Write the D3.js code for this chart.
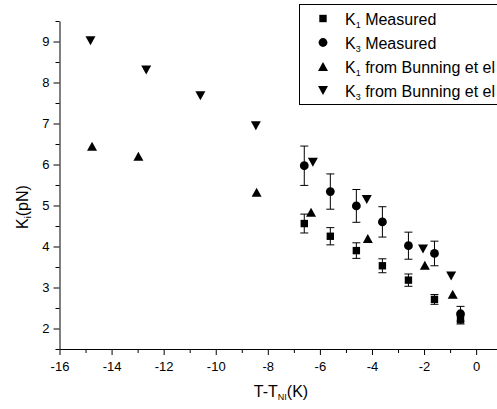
<!DOCTYPE html>
<html>
<head>
<meta charset="utf-8">
<script src="https://cdn.jsdelivr.net/npm/d3@7"></script>
<style>
  body { margin: 0; background: #fff; }
  text { font-family: Arial, "Liberation Sans", sans-serif; fill: #000; }
</style>
</head>
<body>
<div id="chart"></div>
<script>
// Values
const k1MeasT = [-6.6, -5.6, -4.6, -3.6, -2.6, -1.6, -0.6];
const k1Meas = [4.56, 4.25, 3.90, 3.53, 3.18, 2.71, 2.21];
const k1MeasErr = [0.23, 0.21, 0.19, 0.17, 0.15, 0.12, 0.10];

const k3MeasT = [-6.6, -5.6, -4.6, -3.6, -2.6, -1.6, -0.6];
const k3Meas = [5.97, 5.34, 4.99, 4.60, 4.02, 3.83, 2.36];
const k3MeasErr = [0.48, 0.43, 0.40, 0.37, 0.33, 0.30, 0.18];

const k1BunT = [-14.75, -12.97, -8.43, -6.34, -4.16, -1.97, -0.9];
const k1Bun = [6.44, 6.20, 5.32, 4.83, 4.19, 3.54, 2.83];

const k3BunT = [-14.81, -12.67, -10.59, -8.46, -6.27, -4.2, -2.04, -0.96];
const k3Bun = [9.02, 8.31, 7.68, 6.95, 6.06, 5.15, 3.94, 3.28];

const xTicks = [-16, -14, -12, -10, -8, -6, -4, -2, 0];
const xMinorTicks = [-15, -13, -11, -9, -7, -5, -3, -1, 1];
const yTicks = [2, 3, 4, 5, 6, 7, 8, 9];
const yMinorTicks = [1.5, 2.5, 3.5, 4.5, 5.5, 6.5, 7.5, 8.5, 9.5];

const legendNames = ["K", "K", "K", "K"];
const legendSubs = ["1", "3", "1", "3"];
const legendRest = [" Measured", " Measured", " from Bunning et el", " from Bunning et el"];
const legendShapes = ["square", "circle", "up", "down"];

const width = 497;
const height = 409;

const svg = d3.select("#chart")
    .append("svg")
    .attr("width", width)
    .attr("height", height);

// scales
const xScale = d3.scaleLinear()
    .domain([-16, 1])
    .range([59.5, 59.5 + 17 * 26.04]);

const yScale = d3.scaleLinear()
    .domain([1.5, 9.5])
    .range([349, 21]);

// x axis, major and minor ticks
svg.append("g")
    .attr("transform", `translate(0, ${yScale(1.5)})`)
    .style("font-size", "13px")
    .call(d3.axisBottom(xScale)
        .tickValues(xTicks)
        .tickSize(6)
        .tickPadding(7)
        .tickSizeOuter(0)
        .tickFormat(d => String(d)));

svg.append("g")
    .attr("transform", `translate(0, ${yScale(1.5)})`)
    .call(d3.axisBottom(xScale)
        .tickValues(xMinorTicks)
        .tickSize(4)
        .tickSizeOuter(0)
        .tickFormat(""))
    .select(".domain").remove();

// y axis
svg.append("g")
    .attr("transform", `translate(${xScale(-16)}, 0)`)
    .style("font-size", "13px")
    .call(d3.axisLeft(yScale)
        .tickValues(yTicks)
        .tickSize(6)
        .tickPadding(4)
        .tickSizeOuter(0)
        .tickFormat(d => String(d)));

svg.append("g")
    .attr("transform", `translate(${xScale(-16)}, 0)`)
    .call(d3.axisLeft(yScale)
        .tickValues(yMinorTicks)
        .tickSize(4)
        .tickSizeOuter(0)
        .tickFormat(""))
    .select(".domain").remove();

svg.selectAll(".tick text").style("fill", "#000");
svg.selectAll(".domain, .tick line").attr("stroke", "#000");

// marker paths, centred on their box
function marker(shape) {
    if (shape === "square") return "M-3.7,-3.7H3.7V3.7H-3.7Z";
    if (shape === "circle") return "M4.4,0A4.4,4.4 0 1,1 -4.4,0A4.4,4.4 0 1,1 4.4,0Z";
    if (shape === "up") return "M0,-4.6L5,4.4L-5,4.4Z";
    return "M0,4.6L5,-4.4L-5,-4.4Z";
}

// error bars
function errorBars(ts, vs, es) {
    const g = svg.append("g").attr("stroke", "#000").attr("stroke-width", 1);
    ts.forEach((t, i) => {
        const cx = xScale(t);
        const top = yScale(vs[i] + es[i]);
        const bot = yScale(vs[i] - es[i]);
        g.append("line").attr("x1", cx).attr("x2", cx).attr("y1", top).attr("y2", bot);
        g.append("line").attr("x1", cx - 4).attr("x2", cx + 4).attr("y1", top).attr("y2", top);
        g.append("line").attr("x1", cx - 4).attr("x2", cx + 4).attr("y1", bot).attr("y2", bot);
    });
}

function points(ts, vs, shape) {
    svg.append("g")
        .selectAll("path")
        .data(ts.map((t, i) => ({ t: t, v: vs[i] })))
        .join("path")
        .attr("transform", d => `translate(${xScale(d.t)}, ${yScale(d.v)})`)
        .attr("d", marker(shape))
        .attr("fill", "#000");
}

errorBars(k1MeasT, k1Meas, k1MeasErr);
errorBars(k3MeasT, k3Meas, k3MeasErr);
points(k1MeasT, k1Meas, "square");
points(k3MeasT, k3Meas, "circle");
points(k1BunT, k1Bun, "up");
points(k3BunT, k3Bun, "down");

// axis titles
const xTitle = svg.append("text")
    .attr("x", 281)
    .attr("y", 397)
    .attr("text-anchor", "middle")
    .style("font-size", "16px");
xTitle.append("tspan").text("T-T");
xTitle.append("tspan").attr("dy", 3).style("font-size", "9px").text("NI");
xTitle.append("tspan").attr("dy", -3).text("(K)");

const yTitle = svg.append("text")
    .attr("transform", "translate(28, 207) rotate(-90)")
    .attr("text-anchor", "middle")
    .style("font-size", "16px");
yTitle.append("tspan").text("K");
yTitle.append("tspan").attr("dy", 3).style("font-size", "9px").text("i");
yTitle.append("tspan").attr("dy", -3).text("(pN)");

// legend
svg.append("rect")
    .attr("x", 299.5)
    .attr("y", 4.5)
    .attr("width", 250)
    .attr("height", 100)
    .attr("fill", "#fff")
    .attr("stroke", "#000");

legendShapes.forEach((shape, i) => {
    const cy = 18.5 + i * 24;
    svg.append("path")
        .attr("transform", `translate(323, ${cy})`)
        .attr("d", marker(shape))
        .attr("fill", "#000");
    const label = svg.append("text")
        .attr("x", 345)
        .attr("y", cy + 6.5)
        .style("font-size", "16px");
    label.append("tspan").text(legendNames[i]);
    label.append("tspan").attr("dy", 3).style("font-size", "9px").text(legendSubs[i]);
    label.append("tspan").attr("dy", -3).text(legendRest[i]);
});
</script>
</body>
</html>
